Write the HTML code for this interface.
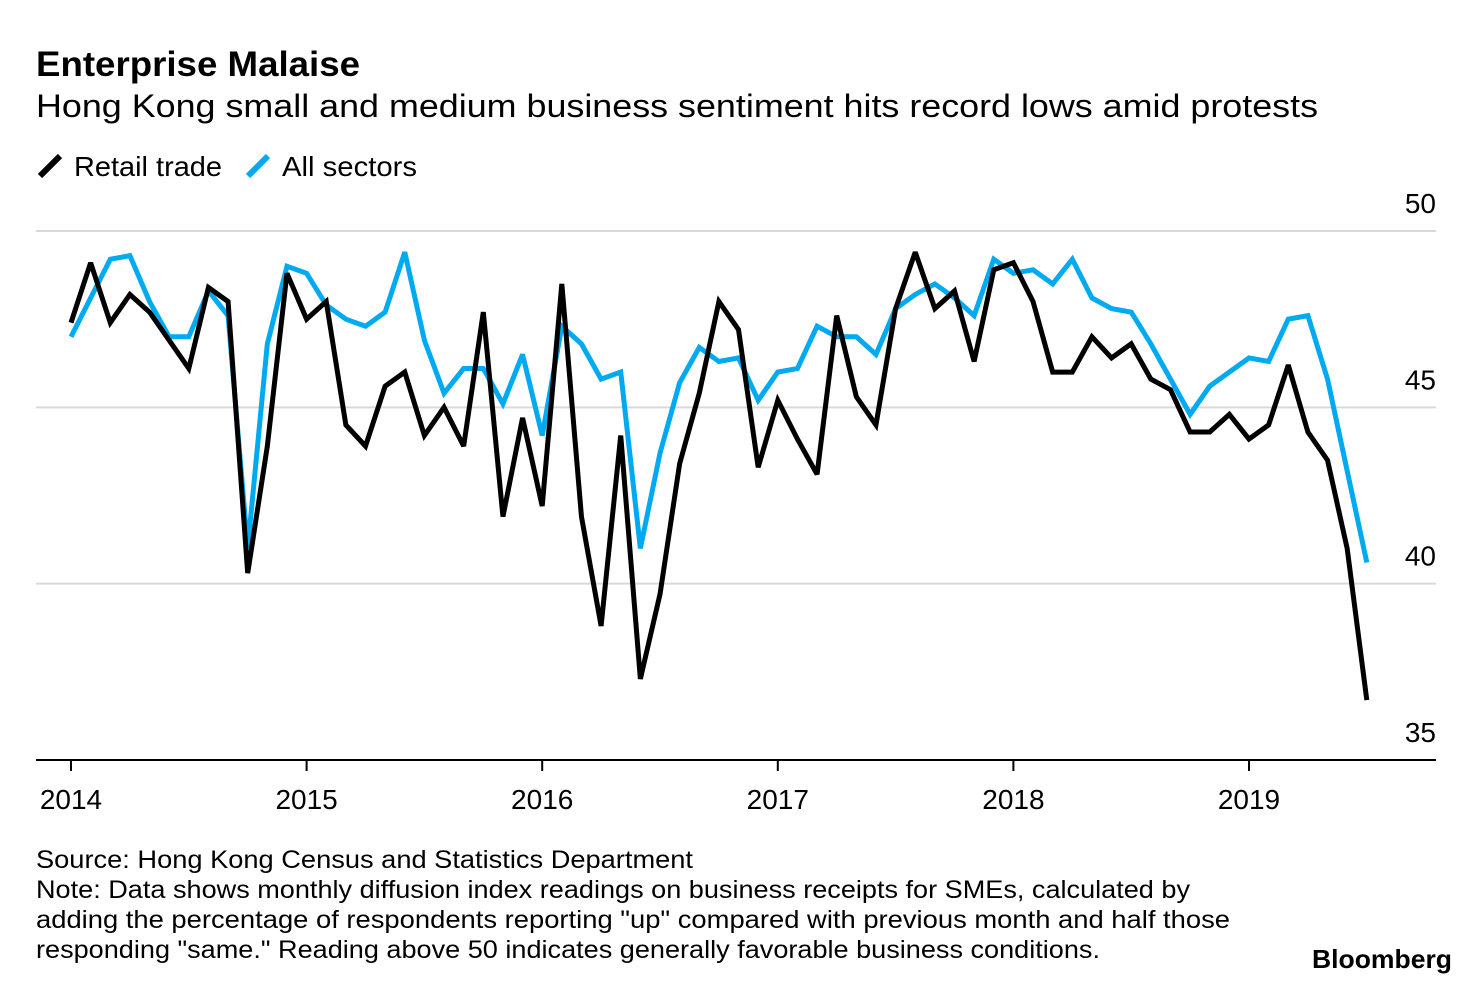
<!DOCTYPE html>
<html><head><meta charset="utf-8"><style>
body{margin:0;background:#fff;width:1480px;height:978px;overflow:hidden;font-family:"Liberation Sans",sans-serif;}
svg text{font-family:"Liberation Sans",sans-serif;}
</style></head><body>
<svg id="chart" width="1480" height="978" xmlns="http://www.w3.org/2000/svg">
<text x="36" y="76" font-size="35" font-weight="bold" textLength="324" lengthAdjust="spacingAndGlyphs">Enterprise Malaise</text>
<text x="36" y="117" font-size="32" textLength="1282" lengthAdjust="spacingAndGlyphs">Hong Kong small and medium business sentiment hits record lows amid protests</text>
<g>
<line x1="40" y1="176" x2="60" y2="156" stroke="#000" stroke-width="6"/>
<text x="74" y="176" font-size="28" textLength="148" lengthAdjust="spacingAndGlyphs">Retail trade</text>
<line x1="248" y1="176" x2="268" y2="156" stroke="#00aaf0" stroke-width="6"/>
<text x="282" y="176" font-size="28" textLength="135" lengthAdjust="spacingAndGlyphs">All sectors</text>
</g>
<g id="grid"></g><g id="xaxis"></g><g id="series"></g>
<text x="36" y="868" font-size="25" textLength="657" lengthAdjust="spacingAndGlyphs">Source: Hong Kong Census and Statistics Department</text>
<text x="36" y="898" font-size="25" textLength="1154" lengthAdjust="spacingAndGlyphs">Note: Data shows monthly diffusion index readings on business receipts for SMEs, calculated by</text>
<text x="36" y="928" font-size="25" textLength="1194" lengthAdjust="spacingAndGlyphs">adding the percentage of respondents reporting "up" compared with previous month and half those</text>
<text x="36" y="958" font-size="25" textLength="1064" lengthAdjust="spacingAndGlyphs">responding "same." Reading above 50 indicates generally favorable business conditions.</text>
<text x="1312" y="968" font-size="26" font-weight="bold" textLength="140" lengthAdjust="spacingAndGlyphs">Bloomberg</text>
</svg>
<script>
const yTicks=[35,40,45,50];
const xYears=[2014,2015,2016,2017,2018,2019];
const retail=[47.4,49.1,47.4,48.2,47.7,46.9,46.1,48.4,48.0,40.3,43.9,48.8,
47.5,48.0,44.5,43.9,45.6,46.0,44.2,45.0,43.9,47.7,41.9,44.7,
42.2,48.5,41.9,38.8,44.2,37.3,39.7,43.4,45.4,48.0,47.2,43.3,
45.2,44.1,43.1,47.6,45.3,44.5,47.8,49.4,47.8,48.3,46.3,48.9,
49.1,48.0,46.0,46.0,47.0,46.4,46.8,45.8,45.5,44.3,44.3,44.8,
44.1,44.5,46.2,44.3,43.5,41.0,36.7];
const allSectors=[47.0,48.1,49.2,49.3,48.0,47.0,47.0,48.3,47.6,41.0,46.8,49.0,
48.8,47.9,47.5,47.3,47.7,49.4,46.9,45.4,46.1,46.1,45.1,46.5,
44.2,47.3,46.8,45.8,46.0,41.0,43.7,45.7,46.7,46.3,46.4,45.2,
46.0,46.1,47.3,47.0,47.0,46.5,47.8,48.2,48.5,48.1,47.6,49.2,
48.8,48.9,48.5,49.2,48.1,47.8,47.7,46.8,45.8,44.8,45.6,46.0,
46.4,46.3,47.5,47.6,45.8,43.2,40.6];
const NS='http://www.w3.org/2000/svg';
const y=v=>760-(v-35)*(529/15);
const x=i=>71+i*(1178/60);
function mk(t,a,p){const e=document.createElementNS(NS,t);for(const k in a)e.setAttribute(k,a[k]);p.appendChild(e);return e;}
const grid=document.getElementById('grid');
yTicks.forEach(v=>{
 if(v>35){const l=mk('line',{x1:36,x2:1436,y1:y(v),y2:y(v),stroke:'#d9d9d9','stroke-width':2},grid);
 
 }
 const t=mk('text',{x:1436,y:y(v)-18,'font-size':28,'text-anchor':'end'},grid);t.textContent=v;
 
 
});
const xa=document.getElementById('xaxis');
const ax=mk('line',{x1:36,x2:1436,y1:760,y2:760,stroke:'#000','stroke-width':2},xa);


xYears.forEach((yr,k)=>{
 const xi=x(k*12);
 const tk=mk('line',{x1:xi,x2:xi,y1:760,y2:771,stroke:'#000','stroke-width':2},xa);
 
 
 const t=mk('text',{x:xi,y:809,'font-size':28,'text-anchor':'middle'},xa);t.textContent=yr;
 
 
});
const s=document.getElementById('series');
function line(d,c,n){const p=mk('polyline',{points:d.map((v,i)=>x(i)+','+y(v)).join(' '),fill:'none',stroke:c,'stroke-width':5,'stroke-linejoin':'miter','stroke-miterlimit':3},s);
 
 }
line(allSectors,'#00aaf0','all-sectors-line');
line(retail,'#000','retail-trade-line');
</script>
</body></html>
